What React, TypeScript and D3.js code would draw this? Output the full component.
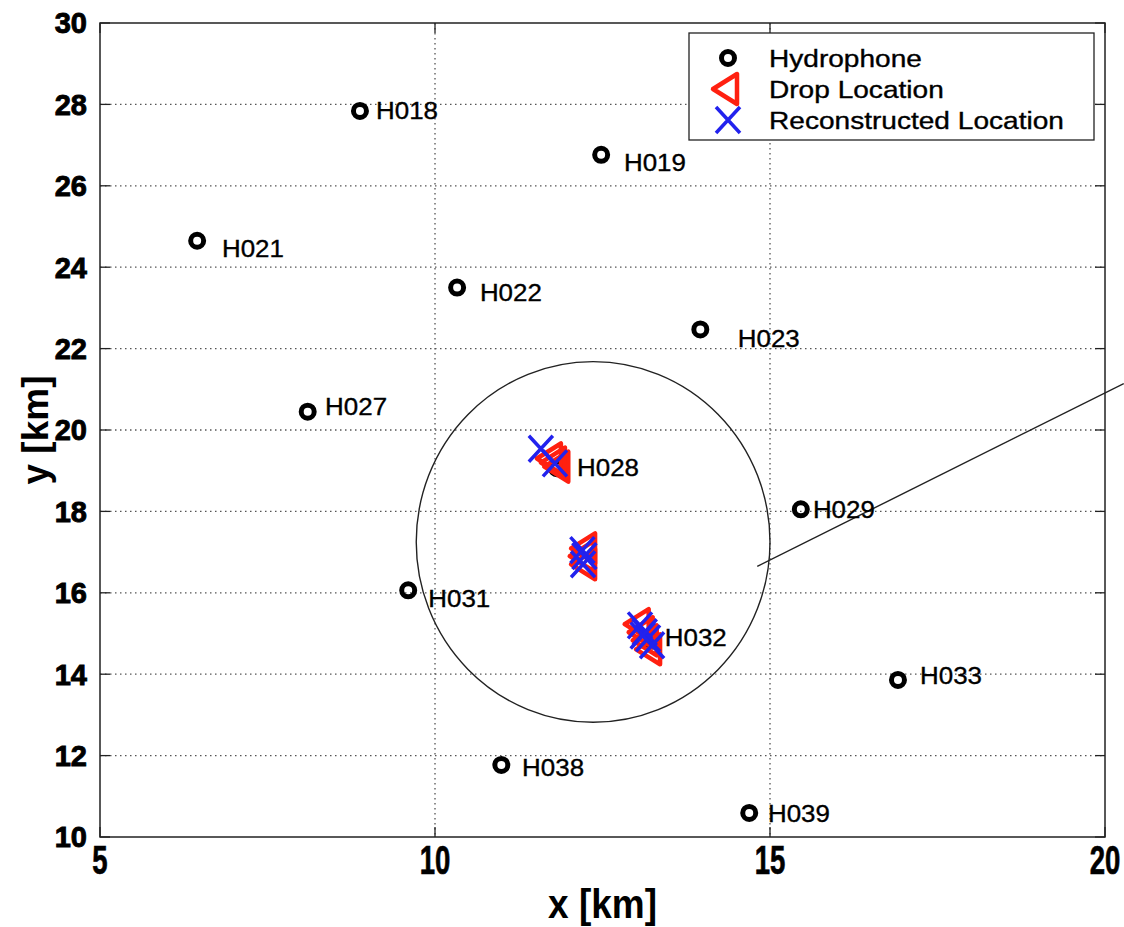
import React, { useEffect } from 'react';
import * as d3 from 'd3';

// hydrophone positions (km)
const hydroNames = ['H018', 'H019', 'H021', 'H022', 'H023', 'H027', 'H028', 'H029', 'H031', 'H032', 'H033', 'H038', 'H039'];
const hydroX = [8.88, 12.48, 6.45, 10.33, 13.96, 8.10, 11.82, 15.46, 9.60, 13.24, 16.91, 10.99, 14.69];
const hydroY = [27.84, 26.76, 24.65, 23.50, 22.47, 20.45, 19.06, 18.05, 16.06, 14.83, 13.86, 11.77, 10.59];
// where each name was written (km)
const labelX = [9.12, 12.82, 6.82, 10.67, 14.52, 8.36, 12.12, 15.64, 9.90, 13.43, 17.24, 11.30, 14.97];
const labelY = [27.86, 26.58, 24.47, 23.37, 22.26, 20.59, 19.07, 18.06, 15.87, 14.91, 13.96, 11.70, 10.59];

// drop / reconstructed locations (km)
const dropX = [11.70, 11.76, 11.81, 12.21, 12.19, 12.21, 13.01, 13.07, 13.13, 13.18];
const dropY = [19.30, 19.20, 19.10, 17.09, 16.90, 16.70, 15.23, 15.03, 14.83, 14.61];
const recX = [11.58, 11.79, 12.20, 12.23, 12.21, 13.06, 13.13, 13.18, 13.24, 13.10];
const recY = [19.54, 19.18, 17.05, 16.90, 16.70, 15.20, 15.03, 14.88, 14.71, 14.95];

// annotation: ellipse + pointer line (km)
const ringCenter = [12.36, 17.25];
const ringRadius = [2.64, 4.43];
const pointerFrom = [14.81, 16.65];
const pointerTo = [20.28, 21.14];

const xTicks = [5, 10, 15, 20];
const yTicks = [10, 12, 14, 16, 18, 20, 22, 24, 26, 28, 30];
const legendItems = ['Hydrophone', 'Drop Location', 'Reconstructed Location'];

const W = 1124;
const H = 927;
const RED = '#ff2010';
const BLUE = '#2222ee';
const FONT = '"Liberation Sans", Arial, sans-serif';

const x = d3.scaleLinear().domain([5, 20]).range([100, 1105]);
const y = d3.scaleLinear().domain([10, 30]).range([837, 23]);

const triPath = 'M-12,0 L12,-15 L12,15 Z';
const crossPath = 'M-12,-13 L12,13 M-12,13 L12,-13';

export default function App() {
    useEffect(() => {
        document.body.style.margin = '0';
    }, []);

    const [x0, x1] = x.range();
    const [y0, y1] = y.range();

    return (
        <svg width={W} height={H} style={{ display: 'block', background: '#fff' }} fontFamily={FONT}>
            {/* grid */}
            {xTicks.slice(1, -1).map(t => (
                <line key={'gx' + t} x1={x(t)} x2={x(t)} y1={y1} y2={y0}
                    stroke="#555" strokeWidth={1.3} strokeDasharray="1.5,3.5" />
            ))}
            {yTicks.slice(1, -1).map(t => (
                <line key={'gy' + t} x1={x0} x2={x1} y1={y(t)} y2={y(t)}
                    stroke="#555" strokeWidth={1.3} strokeDasharray="1.5,3.5" />
            ))}

            {/* ticks on all four sides */}
            {xTicks.map(t => (
                <g key={'tx' + t}>
                    <line x1={x(t)} x2={x(t)} y1={y0} y2={y0 - 10} stroke="#222" strokeWidth={1.3} />
                    <line x1={x(t)} x2={x(t)} y1={y1} y2={y1 + 10} stroke="#222" strokeWidth={1.3} />
                </g>
            ))}
            {yTicks.map(t => (
                <g key={'ty' + t}>
                    <line x1={x0} x2={x0 + 10} y1={y(t)} y2={y(t)} stroke="#222" strokeWidth={1.3} />
                    <line x1={x1} x2={x1 - 10} y1={y(t)} y2={y(t)} stroke="#222" strokeWidth={1.3} />
                </g>
            ))}

            {/* axes box */}
            <rect x={x0} y={y1} width={x1 - x0} height={y0 - y1} fill="none" stroke="#222" strokeWidth={1.5} />

            {/* tick labels */}
            {yTicks.map(t => (
                <text key={'ly' + t} x={87} y={y(t)} dy="0.36em" textAnchor="end"
                    fontSize={29} fontWeight="bold" fill="#000" stroke="#000" strokeWidth={0.9}>{t}</text>
            ))}
            {xTicks.map(t => (
                <text key={'lx' + t} transform={`translate(${x(t)},${y0 + 37}) scale(0.95,1.4)`}
                    textAnchor="middle" fontSize={29} fontWeight="bold" fill="#000" stroke="#000" strokeWidth={0.5}>{t}</text>
            ))}

            {/* axis titles */}
            <text transform={`translate(${(x0 + x1) / 2},${y0 + 81}) scale(1,1.1)`} textAnchor="middle"
                fontSize={37} fontWeight="bold" fill="#000">x [km]</text>
            <text transform={`translate(48,${(y0 + y1) / 2}) rotate(-90)`} textAnchor="middle"
                fontSize={37} fontWeight="bold" fill="#000">y [km]</text>

            {/* annotation ring and pointer */}
            <ellipse cx={x(ringCenter[0])} cy={y(ringCenter[1])}
                rx={x(ringCenter[0] + ringRadius[0]) - x(ringCenter[0])}
                ry={y(ringCenter[1]) - y(ringCenter[1] + ringRadius[1])}
                fill="none" stroke="#222" strokeWidth={1.4} />
            <line x1={x(pointerFrom[0])} y1={y(pointerFrom[1])} x2={x(pointerTo[0])} y2={y(pointerTo[1])}
                stroke="#222" strokeWidth={1.4} />

            {/* hydrophones */}
            {hydroNames.map((n, i) => (
                <circle key={'h' + n} cx={x(hydroX[i])} cy={y(hydroY[i])} r={6.5}
                    fill="none" stroke="#000" strokeWidth={5} />
            ))}
            {hydroNames.map((n, i) => (
                <text key={'hl' + n} transform={`translate(${x(labelX[i])},${y(labelY[i])}) scale(1.08,1)`}
                    dy="0.36em" fontSize={24} fill="#000" stroke="#000" strokeWidth={0.35}>{n}</text>
            ))}

            {/* drop locations */}
            {dropX.map((d, i) => (
                <path key={'d' + i} d={triPath} transform={`translate(${x(d)},${y(dropY[i])})`}
                    fill="none" stroke={RED} strokeWidth={4.5} strokeLinejoin="round" />
            ))}

            {/* reconstructed locations */}
            {recX.map((d, i) => (
                <path key={'r' + i} d={crossPath} transform={`translate(${x(d)},${y(recY[i])})`}
                    fill="none" stroke={BLUE} strokeWidth={3.5} />
            ))}

            {/* legend */}
            <g transform="translate(689,33)">
                <rect x={0} y={0} width={405} height={107} fill="#fff" stroke="#222" strokeWidth={1.3} />
                {legendItems.map((name, i) => {
                    const cy = 25 + i * 31;
                    return (
                        <g key={'lg' + i}>
                            {i === 0 && <circle cx={39} cy={cy} r={6.5} fill="none" stroke="#000" strokeWidth={5} />}
                            {i === 1 && <path d={triPath} transform={`translate(36,${cy})`} fill="none"
                                stroke={RED} strokeWidth={4.5} strokeLinejoin="round" />}
                            {i === 2 && <path d={crossPath} transform={`translate(39,${cy})`} fill="none"
                                stroke={BLUE} strokeWidth={3.5} />}
                            <text transform={`translate(80,${cy}) scale(1.17,1)`} dy="0.36em"
                                fontSize={24} fill="#000" stroke="#000" strokeWidth={0.35}>{name}</text>
                        </g>
                    );
                })}
            </g>
        </svg>
    );
}
